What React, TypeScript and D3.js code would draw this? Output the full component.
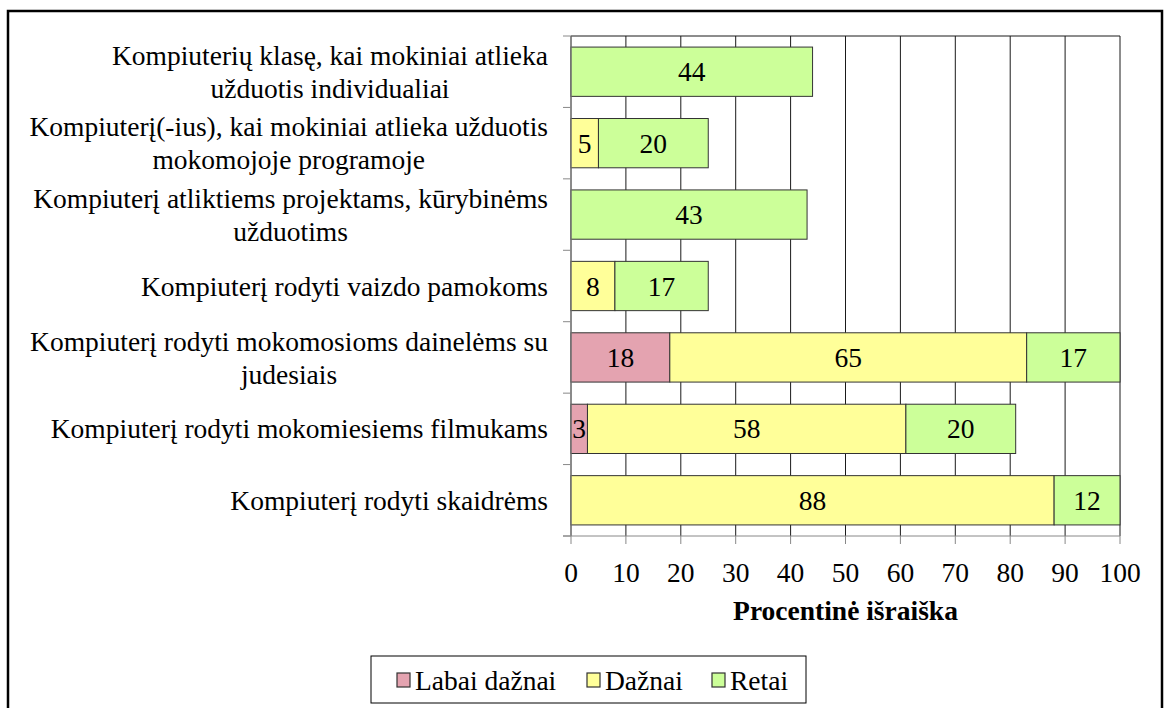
import React from "react";
import * as d3 from "d3";

const categories: string[][] = [
  ["Kompiuterių klasę, kai mokiniai atlieka", "užduotis individualiai"],
  ["Kompiuterį(-ius), kai mokiniai atlieka užduotis", "mokomojoje programoje"],
  ["Kompiuterį atliktiems projektams, kūrybinėms", "užduotims"],
  ["Kompiuterį rodyti vaizdo pamokoms"],
  ["Kompiuterį rodyti mokomosioms dainelėms su", "judesiais"],
  ["Kompiuterį rodyti mokomiesiems filmukams"],
  ["Kompiuterį rodyti skaidrėms"],
];
const labaiDaznai = [0, 0, 0, 0, 18, 3, 0];
const daznai = [0, 5, 0, 8, 65, 58, 88];
const retai = [44, 20, 43, 17, 17, 20, 12];
const seriesNames = ["Labai dažnai", "Dažnai", "Retai"];
const seriesColors = ["#E4A3B0", "#FFFF99", "#CCFF99"];
const xTicks = [0, 10, 20, 30, 40, 50, 60, 70, 80, 90, 100];
const axisTitle = "Procentinė išraiška";

const FAMILY = '"Liberation Serif"';
const FS = 27.5;

let ctx: CanvasRenderingContext2D | null = null;
function measure(t: string, size: number, bold = false) {
  if (!ctx) ctx = document.createElement("canvas").getContext("2d");
  if (!ctx) return t.length * size * 0.43;
  ctx.font = `${bold ? "bold " : ""}${size}px "Liberation Serif"`;
  return ctx.measureText(t).width;
}

function T(props: {
  x: number;
  y: number;
  anchor?: "start" | "middle" | "end";
  bold?: boolean;
  children: React.ReactNode;
}) {
  return (
    <text
      x={props.x}
      y={props.y}
      dy="0.35em"
      textAnchor={props.anchor || "start"}
      fontSize={FS}
      fontWeight={props.bold ? "bold" : "normal"}
      fill="#000"
      style={{ fontFamily: FAMILY }}
    >
      {props.children}
    </text>
  );
}

export default function App() {
  const W = 1167, H = 708;
  const plot = { left: 571, right: 1120, top: 36, bottom: 536 };
  const x = d3.scaleLinear().domain([0, 100]).range([plot.left, plot.right]);
  const y = d3
    .scaleBand<number>()
    .domain(d3.range(categories.length))
    .range([plot.top, plot.bottom])
    .paddingInner(0.31)
    .paddingOuter(0.155);
  const data = categories.map((_, i) => ({ i, a: labaiDaznai[i], b: daznai[i], c: retai[i] }));
  const stack = d3.stack<any>().keys(["a", "b", "c"])(data as any);
  const lineH = 33;
  const labelRight = 548;

  return (
    <svg width={W} height={H} style={{ position: "absolute", left: 0, top: 0 }}>
      <rect x={0} y={0} width={W} height={H} fill="#fff" />
      <rect x={8} y={11} width={1154} height={710} fill="none" stroke="#000" strokeWidth={2.5} />
      {xTicks.map((t) => (
        <line key={t} x1={x(t)} x2={x(t)} y1={plot.top} y2={plot.bottom} stroke="#1a1a1a" strokeWidth={1} />
      ))}
      <line x1={plot.left} x2={plot.right} y1={plot.top} y2={plot.top} stroke="#1a1a1a" />
      {stack.map((s, si) =>
        s.map((d, i) => {
          const v = d[1] - d[0];
          if (v <= 0) return null;
          return (
            <g key={`${si}-${i}`}>
              <rect
                x={x(d[0])}
                y={y(i)!}
                width={x(d[1]) - x(d[0])}
                height={y.bandwidth()}
                fill={seriesColors[si]}
                stroke="#333"
                strokeWidth={1}
              />
              <T x={(x(d[0]) + x(d[1])) / 2} y={y(i)! + y.bandwidth() / 2} anchor="middle">
                {v}
              </T>
            </g>
          );
        })
      )}
      <line x1={plot.left} x2={plot.left} y1={plot.top} y2={plot.bottom} stroke="#888" />
      <line x1={plot.left - 8} x2={plot.right} y1={plot.bottom} y2={plot.bottom} stroke="#888" />
      {d3.range(categories.length + 1).map((k) => {
        const yy = plot.top + (k * (plot.bottom - plot.top)) / categories.length;
        return <line key={k} x1={plot.left - 8} x2={plot.left} y1={yy} y2={yy} stroke="#888" />;
      })}
      {xTicks.map((t) => (
        <g key={t}>
          <line x1={x(t)} x2={x(t)} y1={plot.bottom} y2={plot.bottom + 8} stroke="#888" />
          <T x={x(t)} y={plot.bottom + 36} anchor="middle">
            {t}
          </T>
        </g>
      ))}
      <T x={x(50)} y={610} anchor="middle" bold>
        {axisTitle}
      </T>
      {categories.map((lines, i) => {
        const maxW = Math.max(...lines.map((l) => measure(l, FS)));
        const cx = labelRight - maxW / 2;
        const cy = y(i)! + y.bandwidth() / 2;
        const y0 = cy - ((lines.length - 1) * lineH) / 2;
        return (
          <g key={i}>
            {lines.map((l, li) => (
              <T key={li} x={cx} y={y0 + li * lineH} anchor="middle">
                {l}
              </T>
            ))}
          </g>
        );
      })}
      <rect x={371} y={656} width={435} height={47} fill="#fff" stroke="#000" strokeWidth={1} />
      {seriesNames.map((n, si) => {
        const xs = [397, 587, 712][si];
        return (
          <g key={n}>
            <rect x={xs} y={673} width={13} height={14} fill={seriesColors[si]} stroke="#333" strokeWidth={1.2} />
            <T x={xs + 18} y={680}>
              {n}
            </T>
          </g>
        );
      })}
    </svg>
  );
}
